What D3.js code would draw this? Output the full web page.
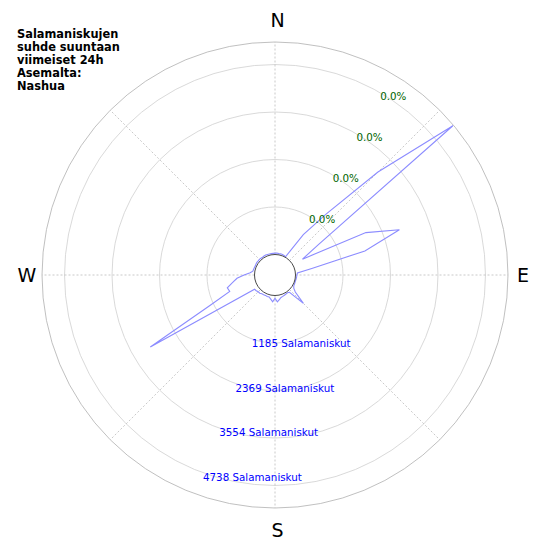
<!DOCTYPE html>
<html>
<head>
<meta charset="utf-8">
<script src="https://cdn.jsdelivr.net/npm/d3@7"></script>
<style>
  html, body { margin: 0; padding: 0; background: #fff; }
  svg { display: block; font-family: "DejaVu Sans", sans-serif; }
</style>
</head>
<body>
<svg id="chart"></svg>
<script>
const width = 550;
const height = 550;

// direction bins (degrees clockwise from north)
const directions = d3.range(0, 360, 5);
// lightning counts per direction bin
const counts = [
  35, 40, 30, 35, 30, 25, 15, 720, 1470, 3120, 5280, 810,
  280, 1990, 2790, 1810, 420, 50, 35, 30, 25, 20, 20, 25,
  30, 60, 150, 490, 50, 30, 35, 45, 55, 70, 110, 160,
  70, 160, 100, 55, 60, 50, 55, 60, 80, 80, 100, 110,
  3080, 1270, 690, 720, 560, 440, 260, 110, 50, 40, 35, 30,
  35, 40, 35, 40, 35, 30, 35, 40, 35, 30, 30, 30
];
const ringValues = [1185, 2369, 3554, 4738];
const ringLabels = ["1185 Salamaniskut", "2369 Salamaniskut", "3554 Salamaniskut", "4738 Salamaniskut"];
const pctLabels = ["0.0%", "0.0%", "0.0%", "0.0%"];
const compass = [
  { name: "N", angle: 0 },
  { name: "E", angle: 90 },
  { name: "S", angle: 180 },
  { name: "W", angle: 270 }
];
const spokes = [0, 45, 90, 135, 180, 225, 270, 315];
const titleLines = ["Salamaniskujen", "suhde suuntaan", "viimeiset 24h", "Asemalta:", "Nashua"];

const cx = 275;
const cy = 275;

const r = d3.scaleLinear()
  .domain([0, 5300])
  .range([20.5, 233]);

const rad = d => d * Math.PI / 180;
const px = (a, rr) => cx + rr * Math.sin(rad(a));
const py = (a, rr) => cy - rr * Math.cos(rad(a));

const svg = d3.select("#chart")
  .attr("width", width)
  .attr("height", height)
  .attr("viewBox", [0, 0, width, height]);

// rings
svg.append("g")
  .selectAll("circle")
  .data(ringValues)
  .join("circle")
  .attr("cx", cx)
  .attr("cy", cy)
  .attr("r", d => r(d))
  .attr("fill", "none")
  .attr("stroke", "#cfcfcf")
  .attr("stroke-width", 0.8);

svg.append("circle")
  .attr("cx", cx)
  .attr("cy", cy)
  .attr("r", r(5300))
  .attr("fill", "none")
  .attr("stroke", "#b0b0b0")
  .attr("stroke-width", 0.8);

// spokes
svg.append("g")
  .selectAll("line")
  .data(spokes)
  .join("line")
  .attr("x1", d => px(d, r(0)))
  .attr("y1", d => py(d, r(0)))
  .attr("x2", d => px(d, r(5300)))
  .attr("y2", d => py(d, r(5300)))
  .attr("stroke", "#bbbbbb")
  .attr("stroke-width", 0.8)
  .attr("stroke-dasharray", "2,2");

// lightning polygon
const line = d3.lineRadial()
  .angle((d, i) => rad(directions[i]))
  .radius(d => r(d))
  .curve(d3.curveLinearClosed);

svg.append("path")
  .datum(counts)
  .attr("transform", `translate(${cx},${cy})`)
  .attr("d", line)
  .attr("fill", "none")
  .attr("stroke", "#8c8cff")
  .attr("stroke-width", 1.1);

// inner hole
svg.append("circle")
  .attr("cx", cx)
  .attr("cy", cy)
  .attr("r", r(0))
  .attr("fill", "white")
  .attr("stroke", "#333")
  .attr("stroke-width", 0.9);

// ring count labels
svg.append("g")
  .selectAll("text")
  .data(ringValues)
  .join("text")
  .attr("x", d => px(200, r(d)))
  .attr("y", d => py(200, r(d)))
  .attr("dy", 8)
  .attr("fill", "blue")
  .style("font-size", "10.3px")
  .text((d, i) => ringLabels[i]);

// percentage labels
svg.append("g")
  .selectAll("text")
  .data(ringValues)
  .join("text")
  .attr("x", d => px(30, r(d)))
  .attr("y", d => py(30, r(d)))
  .attr("dy", 7)
  .attr("fill", "darkgreen")
  .style("font-size", "10.3px")
  .text((d, i) => pctLabels[i]);

// compass letters
const labelRadius = a => 248 + 7 * Math.abs(Math.cos(rad(a)));

svg.append("g")
  .selectAll("text")
  .data(compass)
  .join("text")
  .attr("x", d => px(d.angle, labelRadius(d.angle)) + (d.angle % 180 === 0 ? 2.5 : 0))
  .attr("y", d => py(d.angle, labelRadius(d.angle)))
  .attr("dy", "0.36em")
  .attr("text-anchor", "middle")
  .attr("fill", "black")
  .style("font-size", "19px")
  .text(d => d.name);

// title
svg.append("g")
  .selectAll("text")
  .data(titleLines)
  .join("text")
  .attr("x", 17)
  .attr("y", (d, i) => 37.5 + i * 13.2)
  .attr("fill", "black")
  .style("font-size", "11.4px")
  .style("font-weight", "bold")
  .text(d => d);
</script>
</body>
</html>
